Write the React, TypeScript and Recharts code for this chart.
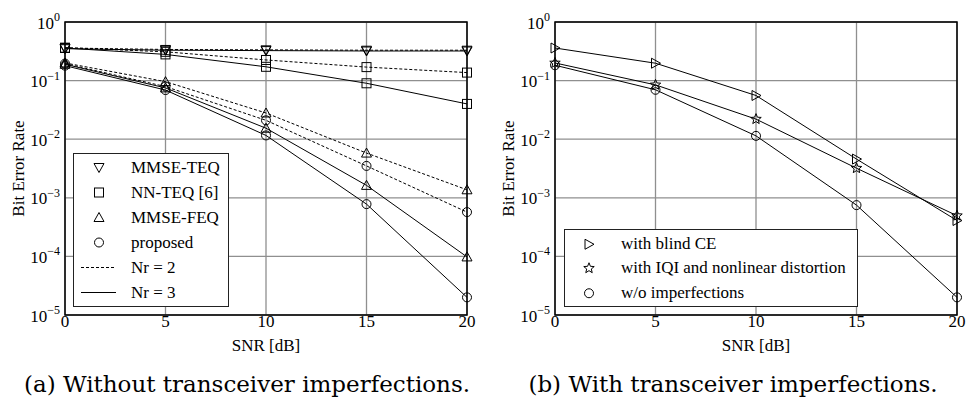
import React from 'react';
import { LineChart, Line, XAxis, YAxis, CartesianGrid, ReferenceArea } from 'recharts';

// SNR points shared by both panels
const SNR = [0, 5, 10, 15, 20];

// (a) without transceiver imperfections
const MMSE_TEQ_NR2 = [0.36, 0.34, 0.335, 0.33, 0.33];
const MMSE_TEQ_NR3 = [0.35, 0.33, 0.325, 0.32, 0.32];
const NN_TEQ_NR2 = [0.365, 0.31, 0.225, 0.17, 0.137];
const NN_TEQ_NR3 = [0.36, 0.28, 0.172, 0.09, 0.04];
const MMSE_FEQ_NR2 = [0.2, 0.096, 0.028, 0.0058, 0.00137];
const MMSE_FEQ_NR3 = [0.19, 0.075, 0.0154, 0.00163, 0.000098];
const PROPOSED_NR2 = [0.195, 0.079, 0.021, 0.0035, 0.00057];
const PROPOSED_NR3 = [0.18, 0.069, 0.0116, 0.00078, 0.00002];

// (b) with transceiver imperfections
const BLIND_CE = [0.36, 0.198, 0.0557, 0.00458, 0.00041];
const IQI_NONLINEAR = [0.2, 0.0845, 0.022, 0.0032, 0.000495];
const WO_IMPERFECTIONS = [0.183, 0.0697, 0.0114, 0.00075, 0.00002];

const X_TICKS = [0, 5, 10, 15, 20];
const Y_TICKS = [1e-5, 1e-4, 1e-3, 1e-2, 1e-1, 1];
const Y_EXPONENTS = ['−5', '−4', '−3', '−2', '−1', '0'];
const MINOR_TICKS = [1e-5, 1e-4, 1e-3, 1e-2, 1e-1].flatMap((d) =>
  [2, 3, 4, 5, 6, 7, 8, 9].map((m) => m * d)
);

const LEGEND_A = [
  { label: 'MMSE-TEQ', shape: 'triDown' },
  { label: 'NN-TEQ [6]', shape: 'square' },
  { label: 'MMSE-FEQ', shape: 'triUp' },
  { label: 'proposed', shape: 'circle' },
  { label: 'Nr = 2', dash: '3 2' },
  { label: 'Nr = 3', dash: '' },
];
const LEGEND_B = [
  { label: 'with blind CE', shape: 'triRight' },
  { label: 'with IQI and nonlinear distortion', shape: 'star' },
  { label: 'w/o imperfections', shape: 'circle' },
];

const FONT = "'Liberation Serif', 'Times New Roman', serif";
const CAPTION_FONT = "'DejaVu Serif', serif";

type SeriesDef = { key: string; values: number[]; shape: string; dash?: string };

const SERIES_A: SeriesDef[] = [
  { key: 'teq2', values: MMSE_TEQ_NR2, shape: 'triDown', dash: '3 2' },
  { key: 'teq3', values: MMSE_TEQ_NR3, shape: 'triDown' },
  { key: 'nn2', values: NN_TEQ_NR2, shape: 'square', dash: '3 2' },
  { key: 'nn3', values: NN_TEQ_NR3, shape: 'square' },
  { key: 'feq2', values: MMSE_FEQ_NR2, shape: 'triUp', dash: '3 2' },
  { key: 'feq3', values: MMSE_FEQ_NR3, shape: 'triUp' },
  { key: 'prop2', values: PROPOSED_NR2, shape: 'circle', dash: '3 2' },
  { key: 'prop3', values: PROPOSED_NR3, shape: 'circle' },
];
const SERIES_B: SeriesDef[] = [
  { key: 'blind', values: BLIND_CE, shape: 'triRight' },
  { key: 'iqi', values: IQI_NONLINEAR, shape: 'star' },
  { key: 'wo', values: WO_IMPERFECTIONS, shape: 'circle' },
];

const TXT = { fontFamily: FONT, fontSize: 17, fill: '#000' };

function Marker({ cx, cy, shape }: { cx: number; cy: number; shape: string }) {
  const st = { fill: 'none', stroke: '#000', strokeWidth: 1 };
  if (cx == null || cy == null) return null;
  switch (shape) {
    case 'circle':
      return <circle cx={cx} cy={cy} r={4.5} {...st} />;
    case 'square':
      return <rect x={cx - 4.5} y={cy - 4.5} width={9} height={9} {...st} />;
    case 'triDown':
      return <polygon points={`${cx - 5},${cy - 4} ${cx + 5},${cy - 4} ${cx},${cy + 5}`} {...st} />;
    case 'triUp':
      return <polygon points={`${cx - 5},${cy + 4} ${cx + 5},${cy + 4} ${cx},${cy - 5}`} {...st} />;
    case 'triRight':
      return <polygon points={`${cx - 4},${cy - 5} ${cx - 4},${cy + 5} ${cx + 5},${cy}`} {...st} />;
    case 'star': {
      const pts: string[] = [];
      for (let i = 0; i < 10; i++) {
        const r = i % 2 === 0 ? 5.5 : 2.4;
        const a = -Math.PI / 2 + (i * Math.PI) / 5;
        pts.push(`${cx + r * Math.cos(a)},${cy + r * Math.sin(a)}`);
      }
      return <polygon points={pts.join(' ')} {...st} />;
    }
    default:
      return null;
  }
}

function YTick(props: any) {
  const { x, y, payload } = props;
  const i = Y_TICKS.indexOf(payload.value);
  return (
    <text x={x} y={y + 6.5} textAnchor="end" style={TXT}>
      <tspan>10</tspan>
      <tspan dy={-7.5} style={{ fontSize: 12 }}>{Y_EXPONENTS[i]}</tspan>
    </text>
  );
}

function XTick(props: any) {
  const { x, y, payload } = props;
  return (
    <text x={x} y={y + 12} textAnchor="middle" style={TXT}>
      {payload.value}
    </text>
  );
}

function LegendBox({ items, style, rowH, symX, textX }: any) {
  return (
    <div
      style={{
        position: 'absolute',
        background: '#fff',
        border: '1.5px solid #222',
        boxSizing: 'border-box',
        fontFamily: FONT,
        fontSize: 17,
        ...style,
      }}
    >
      {items.map((it: any) => (
        <div key={it.label} style={{ position: 'relative', height: rowH, lineHeight: `${rowH}px` }}>
          <svg width={40} height={rowH} style={{ position: 'absolute', left: symX - 20, top: 0 }}>
            {it.shape ? (
              <Marker cx={20} cy={rowH / 2} shape={it.shape} />
            ) : (
              <line x1={2} x2={37} y1={rowH / 2} y2={rowH / 2} stroke="#000" strokeWidth={1} strokeDasharray={it.dash || undefined} />
            )}
          </svg>
          <span style={{ position: 'absolute', left: textX, top: 0, whiteSpace: 'nowrap' }}>{it.label}</span>
        </div>
      ))}
    </div>
  );
}

function BerChart({ series }: { series: SeriesDef[] }) {
  const data = SNR.map((snr, i) => {
    const row: Record<string, number> = { snr };
    series.forEach((s) => (row[s.key] = s.values[i]));
    return row;
  });
  return (
    <LineChart
      width={490}
      height={355}
      data={data}
      margin={{ top: 22, right: 23, bottom: 0, left: 0 }}
      style={{ fontFamily: FONT }}
    >
      <CartesianGrid stroke="#8f8f8f" strokeWidth={1.3} />
      <XAxis
        dataKey="snr"
        type="number"
        domain={[0, 20]}
        ticks={X_TICKS}
        height={40}
        tickLine={false}
        axisLine={false}
        tickSize={0}
        tickMargin={0}
        tick={<XTick />}
        label={{ value: 'SNR [dB]', position: 'insideBottom', offset: 4, style: TXT }}
      />
      <YAxis
        scale="log"
        type="number"
        domain={[1e-5, 1]}
        allowDataOverflow
        ticks={Y_TICKS}
        width={65}
        tickLine={false}
        axisLine={false}
        tickSize={3}
        tick={<YTick />}
        label={{
          value: 'Bit Error Rate',
          angle: -90,
          position: 'insideLeft',
          offset: 18,
          style: { ...TXT, textAnchor: 'middle' },
        }}
      />
      <YAxis
        yAxisId="minorL"
        scale="log"
        type="number"
        domain={[1e-5, 1]}
        allowDataOverflow
        ticks={MINOR_TICKS}
        mirror
        width={0}
        tick={false}
        axisLine={false}
        tickSize={3}
        stroke="#000"
      />
      <YAxis
        yAxisId="minorR"
        orientation="right"
        scale="log"
        type="number"
        domain={[1e-5, 1]}
        allowDataOverflow
        ticks={MINOR_TICKS}
        mirror
        width={0}
        tick={false}
        axisLine={false}
        tickSize={3}
        stroke="#000"
      />
      <ReferenceArea x1={0} x2={20} y1={1e-5} y2={1} fill="none" stroke="#000" strokeWidth={1.5} ifOverflow="visible" />
      {series.map((s) => (
        <Line
          key={s.key}
          dataKey={s.key}
          type="linear"
          stroke="#000"
          strokeWidth={1}
          strokeDasharray={s.dash}
          isAnimationActive={false}
          activeDot={false}
          dot={(p: any) => <Marker key={`${s.key}-${p.index}`} cx={p.cx} cy={p.cy} shape={s.shape} />}
        />
      ))}
    </LineChart>
  );
}

export default function App() {
  const caption = {
    position: 'absolute' as const,
    top: 373,
    width: 490,
    textAlign: 'center' as const,
    fontFamily: CAPTION_FONT,
    fontSize: 23,
    lineHeight: '23px',
    color: '#000',
  };
  return (
    <div style={{ position: 'absolute', left: 0, top: 0, width: 977, height: 403, background: '#fff', overflow: 'hidden' }}>
      <div style={{ position: 'absolute', left: 0, top: 0, width: 490, height: 355 }}>
        <BerChart series={SERIES_A} />
        <LegendBox items={LEGEND_A} rowH={25} symX={25} textX={57} style={{ left: 73, top: 153, width: 156, height: 154, paddingTop: 1 }} />
      </div>
      <div style={{ position: 'absolute', left: 490, top: 0, width: 490, height: 355 }}>
        <BerChart series={SERIES_B} />
        <LegendBox items={LEGEND_B} rowH={24.5} symX={24} textX={56} style={{ left: 74, top: 229, width: 294, height: 78, paddingTop: 1.5 }} />
      </div>
      <div style={{ ...caption, left: 2 }}>(a) Without transceiver imperfections.</div>
      <div style={{ ...caption, left: 488 }}>(b) With transceiver imperfections.</div>
    </div>
  );
}
